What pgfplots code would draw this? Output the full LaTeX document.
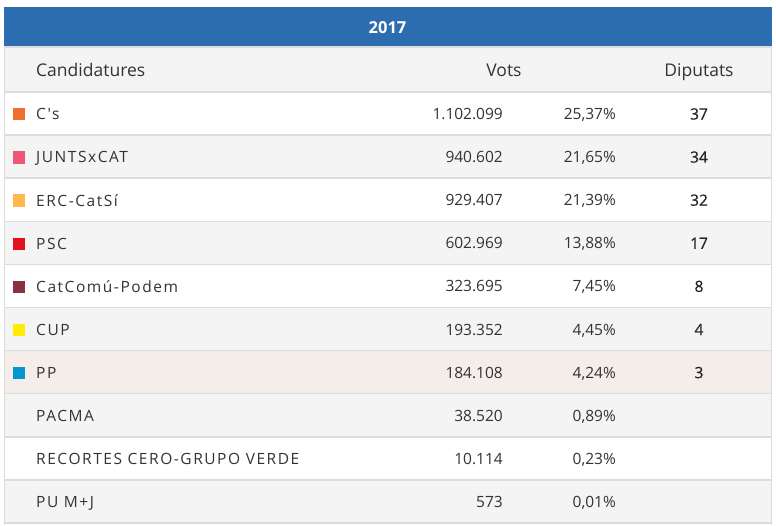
\documentclass[border=0pt]{standalone}
\usepackage{pgfplots}
\pgfplotsset{compat=1.18}
\usepackage{pgfplotstable}
\usepackage{fontspec}
\setmainfont{Open Sans}
\newfontfamily\namefont[LetterSpace=10]{Open Sans}
\newfontfamily\seatfont[FakeBold=0.6]{Open Sans}
\definecolor{hdrblue}{HTML}{2C6DAF}
\definecolor{rowgray}{HTML}{F4F4F4}
\definecolor{rowpink}{HTML}{F5EDEA}
\definecolor{linegray}{HTML}{DCDCDC}
\definecolor{txt}{HTML}{333333}
\definecolor{cCs}{HTML}{EF6F2C}
\definecolor{cJunts}{HTML}{EE5778}
\definecolor{cErc}{HTML}{FFB84D}
\definecolor{cPsc}{HTML}{E3111B}
\definecolor{cComu}{HTML}{8B2F42}
\definecolor{cCup}{HTML}{FFED00}
\definecolor{cPp}{HTML}{0098CF}

\pgfplotstableread{
row name votes pct seats
0 {C's} 1.102.099 25.37 37
1 {JUNTSxCAT} 940.602 21.65 34
2 {ERC-CatSí} 929.407 21.39 32
3 {PSC} 602.969 13.88 17
4 {CatComú-Podem} 323.695 7.45 8
5 {CUP} 193.352 4.45 4
6 {PP} 184.108 4.24 3
7 {PACMA} 38.520 0.89 0
8 {RECORTES CERO-GRUPO VERDE} 10.114 0.23 0
9 {PU M+J} 573 0.01 0
}\results

\newcommand{\fs}{\fontsize{15.5}{19}\selectfont}
\newcommand{\hfs}{\fontsize{17.5}{21}\selectfont}

\begin{document}
\begin{tikzpicture}
\begin{axis}[
  width=776pt, height=525pt, scale only axis,
  xmin=0, xmax=776, ymin=0, ymax=525, y dir=reverse,
  hide axis, clip=false,
]
% full canvas (bounding box)
\path (axis cs:0,0) rectangle (axis cs:776,525);
% header band
\fill[hdrblue] (axis cs:4,7) rectangle (axis cs:772,47);
\fill[rowgray] (axis cs:4,47) rectangle (axis cs:772,92);
% row backgrounds
\fill[white]   (axis cs:4,92)    rectangle (axis cs:772,135.1);
\fill[rowgray] (axis cs:4,135.1) rectangle (axis cs:772,178.2);
\fill[white]   (axis cs:4,178.2) rectangle (axis cs:772,221.3);
\fill[rowgray] (axis cs:4,221.3) rectangle (axis cs:772,264.4);
\fill[white]   (axis cs:4,264.4) rectangle (axis cs:772,307.5);
\fill[rowgray] (axis cs:4,307.5) rectangle (axis cs:772,350.6);
\fill[rowpink] (axis cs:4,350.6) rectangle (axis cs:772,393.7);
\fill[rowgray] (axis cs:4,393.7) rectangle (axis cs:772,436.8);
\fill[white]   (axis cs:4,436.8) rectangle (axis cs:772,479.9);
\fill[rowgray] (axis cs:4,479.9) rectangle (axis cs:772,523);
% grid lines
\pgfplotsinvokeforeach{47,92,135.1,178.2,221.3,264.4,307.5,350.6,393.7,436.8,479.9,523}
  {\draw[linegray, line width=1.5pt] (axis cs:4,#1) -- (axis cs:772,#1);}
\draw[linegray, line width=1.5pt] (axis cs:4.5,47) -- (axis cs:4.5,525);
\draw[linegray, line width=1.5pt] (axis cs:771.5,47) -- (axis cs:771.5,525);

% headers
\node[anchor=base, text=white, inner sep=0pt, font=\fontsize{16.5}{20}\selectfont\bfseries] at (axis cs:387.5,33) {2017};
\node[anchor=base west, text=txt, inner sep=0pt, font=\hfs] at (axis cs:36,76) {Candidatures};
\node[anchor=base, text=txt, inner sep=0pt, font=\hfs] at (axis cs:504,76) {Vots};
\node[anchor=base, text=txt, inner sep=0pt, font=\hfs] at (axis cs:699,76) {Diputats};

% colour squares
\addplot[only marks, mark=square*, mark size=5.6pt, color=cCs]    coordinates {(18.4,114)};
\addplot[only marks, mark=square*, mark size=5.6pt, color=cJunts] coordinates {(18.4,157.1)};
\addplot[only marks, mark=square*, mark size=5.6pt, color=cErc]   coordinates {(18.4,200.2)};
\addplot[only marks, mark=square*, mark size=5.6pt, color=cPsc]   coordinates {(18.4,243.3)};
\addplot[only marks, mark=square*, mark size=5.6pt, color=cComu]  coordinates {(18.4,286.4)};
\addplot[only marks, mark=square*, mark size=5.6pt, color=cCup]   coordinates {(18.4,329.5)};
\addplot[only marks, mark=square*, mark size=5.6pt, color=cPp]    coordinates {(18.4,372.6)};

% names
\addplot[draw=none, mark=none, nodes near coords, point meta=explicit symbolic,
  nodes near coords style={anchor=base west, inner sep=0pt, text=txt, font=\namefont\fs}]
  table[x expr=36, y expr=119.8+43.1*\thisrow{row}, meta=name] {\results};
% votes
\addplot[draw=none, mark=none, nodes near coords, point meta=explicit symbolic,
  nodes near coords style={anchor=base east, inner sep=0pt, text=txt, font=\fs}]
  table[x expr=503, y expr=119.5+43.1*\thisrow{row}, meta=votes] {\results};
% percentages
\addplot[draw=none, mark=none, point meta=explicit,
  nodes near coords={\pgfmathprintnumber[fixed, fixed zerofill, precision=2, use comma, assume math mode=true]{\pgfplotspointmeta}\%},
  nodes near coords style={anchor=base east, inner sep=0pt, text=txt, font=\fs}]
  table[x expr=616, y expr=119.5+43.1*\thisrow{row}, meta=pct] {\results};
% seats
\addplot[draw=none, mark=none, point meta=explicit symbolic, skip coords between index={7}{10},
  nodes near coords,
  nodes near coords style={anchor=base, inner sep=0pt, text=black!85, font=\seatfont\fs}]
  table[x expr=699, y expr=119.5+43.1*\thisrow{row}, meta=seats] {\results};
\end{axis}
\end{tikzpicture}
\end{document}
